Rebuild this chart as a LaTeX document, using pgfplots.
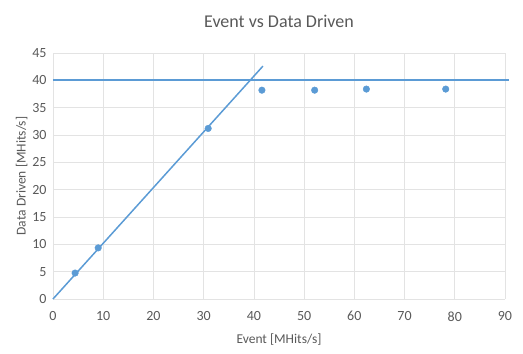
\documentclass[border=0pt]{standalone}
\usepackage{fontspec}
\setmainfont{Carlito}
\usepackage{pgfplots}
\pgfplotsset{compat=1.18}
\definecolor{xblue}{RGB}{91,155,213}
\definecolor{txt}{RGB}{89,89,89}
\begin{document}
\begin{tikzpicture}
\begin{axis}[
  scale only axis, width=452pt, height=246pt,
  xmin=0, xmax=90, ymin=0, ymax=45,
  xtick={0,10,...,90}, ytick={0,5,...,45},
  grid=major, major grid style={gray!22, line width=0.6pt},
  axis line style={draw=none},
  major tick length=0pt,
  clip=false,
  /pgf/number format/assume math mode=true,
  ticklabel style={font=\fontsize{14}{16}\selectfont, text=txt},
  xticklabel style={yshift=-9pt},
  yticklabel style={xshift=-3pt},
  xlabel={Event [MHits/s]}, ylabel={Data Driven [MHits/s]},
  label style={font=\fontsize{13.5}{15}\selectfont, text=txt},
  xlabel style={yshift=-6pt},
  ylabel style={yshift=-2pt},
  title={Event vs Data Driven},
  title style={font=\fontsize{18}{20}\selectfont, text=txt, yshift=16pt},
]
\addplot[xblue, line width=1.7pt] coordinates {(0,40.1) (90.8,40.1)};
\addplot[xblue, line width=1.5pt] coordinates {(0,0) (41.8,42.6)};
\addplot[only marks, mark=*, mark size=3.3pt, color=xblue] coordinates {
(4.4,4.75) (9.0,9.35) (30.9,31.2) (41.6,38.2) (52.1,38.2) (62.4,38.4) (78.2,38.4)};
\end{axis}
\path (current axis.south west) ++(-53pt,-55pt) rectangle ++(523pt,354pt);
\end{tikzpicture}
\end{document}
